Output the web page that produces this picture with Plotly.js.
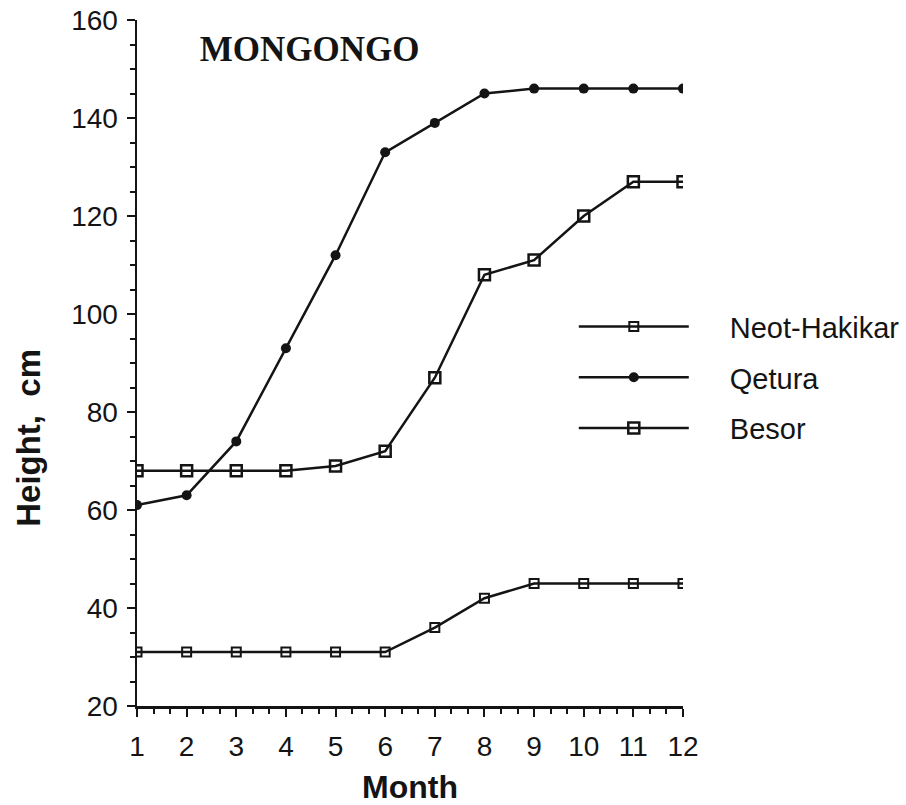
<!DOCTYPE html>
<html>
<head>
<meta charset="utf-8">
<script src="https://cdn.plot.ly/plotly-3.0.1.min.js"></script>
<style>html,body{margin:0;padding:0;background:#fff;}#chart{width:906px;height:805px;}</style>
</head>
<body>
<div id="chart"></div>
<script>
const months = [1, 2, 3, 4, 5, 6, 7, 8, 9, 10, 11, 12];
const neotHakikar = [31, 31, 31, 31, 31, 31, 36, 42, 45, 45, 45, 45];
const qetura = [61, 63, 74, 93, 112, 133, 139, 145, 146, 146, 146, 146];
const besor = [68, 68, 68, 68, 69, 72, 87, 108, 111, 120, 127, 127];
const seriesNames = ['Neot-Hakikar', 'Qetura', 'Besor'];
const chartTitle = 'MONGONGO';
const xTitle = 'Month';
const yTitle = 'Height,  cm';

const ink = '#141414';
const sans = 'Arial, "Liberation Sans", Helvetica, sans-serif';

const traces = [
  {x: months, y: neotHakikar, name: seriesNames[0], mode: 'lines+markers', legendgroup: 'a',
   line: {color: ink, width: 2.5}, marker: {symbol: 'square-open', size: 9, color: ink, line: {width: 2}}},
  {x: months, y: qetura, name: seriesNames[1], mode: 'lines+markers', legendgroup: 'b',
   line: {color: ink, width: 2.5}, marker: {symbol: 'circle', size: 10, color: ink}},
  {x: months, y: besor, name: seriesNames[2], mode: 'lines+markers', legendgroup: 'c',
   line: {color: ink, width: 2.5}, marker: {symbol: 'square-open', size: 11, color: ink, line: {width: 2.5}}}
];

const layout = {
  width: 906, height: 805,
  margin: {l: 137, r: 223, t: 20, b: 99},
  paper_bgcolor: '#fff', plot_bgcolor: '#fff',
  font: {family: sans, color: ink, size: 27},
  title: {text: chartTitle, font: {family: '"Liberation Serif", "Times New Roman", serif', size: 35, weight: 'bold', color: ink},
          xref: 'paper', x: 0.115, xanchor: 'left', yref: 'container', y: 1 - 49/805, yanchor: 'middle'},
  showlegend: true,
  legend: {x: 0.80, xanchor: 'left', y: 0.59, yanchor: 'top', bgcolor: 'rgba(0,0,0,0)',
           font: {family: sans, size: 29, color: ink}, itemwidth: 110, tracegroupgap: 10},
  xaxis: {range: [1, 12], showgrid: false, zeroline: false, showline: true, linecolor: ink, linewidth: 2.5,
          ticks: 'outside', ticklen: 8, tickwidth: 2, tickcolor: ink, dtick: 1, tick0: 1,
          ticklabelstandoff: 6,
          minor: {dtick: 1/3, tick0: 1, ticks: 'outside', ticklen: 5, tickwidth: 2, tickcolor: ink, showgrid: false},
          tickfont: {size: 28, family: sans, color: ink},
          title: {text: xTitle, font: {size: 32, family: sans, weight: 'bold', color: ink}, standoff: 22}},
  yaxis: {range: [20, 160], showgrid: false, zeroline: false, showline: true, linecolor: ink, linewidth: 2.5,
          ticks: 'outside', ticklen: 8, tickwidth: 2, tickcolor: ink, dtick: 20, tick0: 20,
          ticklabelstandoff: 3,
          minor: {dtick: 5, ticks: 'outside', ticklen: 5, tickwidth: 2, tickcolor: ink, showgrid: false},
          tickfont: {size: 28, family: sans, color: ink}},
  annotations: [
    {text: yTitle, textangle: -90, xref: 'paper', yref: 'paper', x: -0.2, y: (706 - 438) / 686,
     xanchor: 'center', yanchor: 'middle', showarrow: false,
     font: {size: 33, family: sans, weight: 'bold', color: ink}}
  ]
};

Plotly.newPlot('chart', traces, layout, {displayModeBar: false, staticPlot: true}).then(function (gd) {
  // widen the gap between the legend sample line and its label, as in the original
  gd.querySelectorAll('.legend [clip-path]').forEach(function (e) { e.removeAttribute('clip-path'); });
  gd.querySelectorAll('.legend text.legendtext').forEach(function (t) {
    t.setAttribute('x', parseFloat(t.getAttribute('x') || 0) + 36);
  });
});
</script>
</body>
</html>
